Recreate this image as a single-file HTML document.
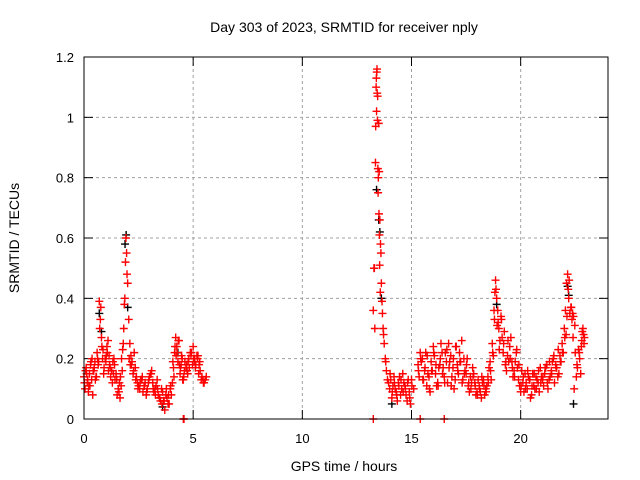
<!DOCTYPE html>
<html><head><meta charset="utf-8"><style>
body{margin:0;background:#fff}
svg{display:block;font-family:"Liberation Sans",sans-serif}
</style></head><body>
<svg id="chart" width="640" height="480" xmlns="http://www.w3.org/2000/svg">
<text x="344" y="32" font-size="14" text-anchor="middle">Day 303 of 2023, SRMTID for receiver nply</text>
<text x="344" y="471" font-size="14" text-anchor="middle">GPS time / hours</text>
<text transform="translate(19,238) rotate(-90)" font-size="14" text-anchor="middle">SRMTID / TECUs</text>
<g id="grid"></g>
<g id="ticks"></g>
<g id="black"></g>
<g id="red"></g>
<rect x="84" y="57" width="524" height="362" fill="none" stroke="#000" stroke-width="1"/>
</svg>
<script>
const xTicks=[0,5,10,15,20];
const yTicks=[0,0.2,0.4,0.6,0.8,1,1.2];
const yTickLabels=["0","0.2","0.4","0.6","0.8","1","1.2"];
const redTimes=[0,0.05,0.1,0.15,0.2,0.25,0.3,0.35,0.4,0.45,0.5,0.55,0.6,0.65,0.7,0.75,0.8,0.85,0.9,1.0,1.05,1.1,1.15,1.2,1.3,1.35,1.4,1.5,1.6,1.65,1.7,1.75,1.8,1.85,1.9,1.92,1.95,2.0,2.05,2.1,2.15,2.2,2.3,2.35,2.4,2.5,2.6,2.7,2.8,2.9,3.0,3.1,3.15,3.2,3.3,3.4,3.5,3.6,3.7,3.8,3.9,4.0,4.05,4.1,4.15,4.2,4.25,4.3,4.35,4.4,4.45,4.5,4.55,4.6,4.7,4.75,4.8,4.9,5.0,5.05,5.1,5.2,5.25,5.3,5.4,5.5,5.55,5.6,
0.02,0.12,0.22,0.32,0.42,0.52,0.62,0.72,0.82,0.92,1.02,1.12,1.22,1.32,1.42,1.52,1.62,1.72,1.82,2.12,2.25,2.45,2.55,2.65,2.75,2.85,2.95,3.05,3.25,3.35,3.45,3.55,3.65,3.75,3.85,3.95,4.12,4.22,4.32,4.42,4.52,4.62,4.72,4.82,4.92,5.02,5.12,5.22,5.32,5.45,4.55,4.58,
0.07,0.17,0.27,0.37,0.47,0.57,0.67,0.77,0.87,0.97,1.07,1.17,1.27,1.37,1.47,1.57,1.67,1.77,1.87,1.97,2.07,2.17,2.27,2.37,2.47,2.57,2.67,2.77,2.87,2.97,3.07,3.17,3.27,3.37,3.47,3.57,3.67,3.77,3.87,3.97,4.07,4.17,4.27,4.37,4.47,4.57,4.67,4.77,4.87,4.97,5.07,5.17,5.27,5.37,5.47,
13.25,13.3,13.35,13.38,13.42,13.45,13.5,13.52,13.55,13.6,13.62,13.65,13.7,13.75,13.8,13.85,13.9,14.0,14.1,14.15,14.2,14.3,14.4,14.5,14.6,14.7,14.8,14.9,15.0,15.1,15.3,15.4,15.5,15.6,15.7,15.8,15.9,16.0,16.1,16.2,16.3,16.4,16.5,16.6,16.7,16.8,16.9,17.0,17.1,17.2,17.3,17.4,17.5,17.6,17.7,17.8,17.9,18.0,18.1,18.2,18.3,18.4,18.5,18.6,18.7,18.8,18.85,18.9,18.95,19.0,19.1,19.15,19.2,19.3,19.4,19.5,19.6,19.7,19.8,19.9,20.0,20.1,20.2,20.3,20.4,20.5,20.6,20.7,20.8,20.9,21.0,21.1,21.2,21.3,21.4,21.5,21.6,21.7,21.8,21.9,22.0,22.05,22.1,22.15,22.2,22.3,22.35,22.4,22.45,22.5,22.6,22.7,22.8,22.85,22.9,
13.4,13.47,13.58,13.67,13.72,13.82,13.95,14.05,14.25,14.35,14.45,14.55,14.65,14.75,14.85,14.95,15.35,15.45,15.55,15.65,15.75,15.85,15.95,16.05,16.15,16.25,16.35,16.45,16.55,16.65,16.75,16.85,16.95,17.05,17.15,17.25,17.35,17.45,17.55,17.65,17.75,17.85,17.95,18.05,18.15,18.25,18.35,18.45,18.55,18.65,18.75,18.82,18.92,19.05,19.25,19.35,19.45,19.55,19.65,19.75,19.85,19.95,20.05,20.15,20.25,20.35,20.45,20.55,20.65,20.75,20.85,20.95,21.05,21.15,21.25,21.35,21.45,21.55,21.65,21.75,21.85,21.95,22.08,22.18,22.25,22.42,22.55,22.65,22.75,22.88,13.25,15.4,16.5,
13.36,13.39,13.41,13.43,13.44,13.46,13.48,13.51,13.53,13.54,13.57,13.28,13.32,14.02,14.12,14.22,14.32,14.42,14.52,14.62,14.72,14.82,14.92,15.02,15.32,15.42,15.52,15.62,15.72,15.82,15.92,16.02,16.12,16.22,16.32,16.42,16.52,16.62,16.72,16.82,16.92,17.02,17.12,17.22,17.32,17.42,17.52,17.62,17.72,17.82,17.92,18.02,18.12,18.22,18.32,18.42,18.52,18.62,18.72,18.78,18.87,18.97,19.02,19.12,19.22,19.32,19.42,19.52,19.62,19.72,19.82,19.92,20.02,20.12,20.22,20.32,20.42,20.52,20.62,20.72,20.82,20.92,21.02,21.12,21.22,21.32,21.42,21.52,21.62,21.72,21.82,21.92,22.02,22.12,22.22,22.32,22.38,22.48,22.58,22.68,22.78,22.82,22.92];
const redValues=[0.14,0.10,0.17,0.12,0.09,0.15,0.18,0.13,0.08,0.16,0.19,0.14,0.22,0.18,0.39,0.33,0.27,0.20,0.15,0.19,0.24,0.26,0.21,0.17,0.12,0.15,0.18,0.13,0.09,0.07,0.11,0.16,0.25,0.38,0.52,0.60,0.55,0.45,0.33,0.25,0.21,0.19,0.22,0.17,0.14,0.11,0.13,0.09,0.12,0.10,0.14,0.16,0.12,0.09,0.11,0.08,0.06,0.09,0.03,0.07,0.05,0.08,0.12,0.17,0.22,0.27,0.24,0.19,0.26,0.15,0.18,0.20,0.13,0.16,0.18,0.15,0.20,0.21,0.24,0.19,0.17,0.20,0.15,0.19,0.14,0.12,0.13,0.14,
0.12,0.15,0.11,0.19,0.16,0.13,0.20,0.30,0.24,0.17,0.21,0.16,0.14,0.19,0.13,0.08,0.12,0.20,0.30,0.18,0.15,0.12,0.10,0.13,0.11,0.08,0.12,0.15,0.10,0.13,0.07,0.10,0.06,0.08,0.05,0.10,0.14,0.21,0.26,0.17,0.13,0.19,0.16,0.17,0.22,0.20,0.18,0.21,0.16,0.13,0,0,
0.16,0.13,0.11,0.20,0.17,0.14,0.19,0.37,0.23,0.20,0.22,0.18,0.16,0.20,0.15,0.10,0.14,0.23,0.40,0.48,0.20,0.18,0.16,0.13,0.10,0.12,0.14,0.11,0.09,0.13,0.15,0.10,0.08,0.10,0.07,0.05,0.06,0.10,0.08,0.11,0.19,0.24,0.22,0.18,0.21,0.14,0.17,0.19,0.22,0.18,0.20,0.21,0.18,0.13,0.12,
0.36,0.50,0.85,1.10,1.16,1.07,0.98,0.82,0.66,0.55,0.45,0.39,0.30,0.25,0.20,0.16,0.13,0.10,0.07,0.11,0.14,0.09,0.12,0.08,0.15,0.11,0.06,0.09,0.13,0.10,0.18,0.22,0.20,0.16,0.11,0.14,0.19,0.24,0.15,0.12,0.18,0.22,0.14,0.19,0.25,0.21,0.17,0.13,0.18,0.22,0.26,0.20,0.15,0.11,0.14,0.17,0.12,0.09,0.11,0.07,0.13,0.10,0.14,0.19,0.25,0.33,0.46,0.40,0.36,0.30,0.34,0.27,0.22,0.18,0.21,0.24,0.19,0.16,0.22,0.13,0.09,0.12,0.15,0.10,0.13,0.08,0.11,0.14,0.12,0.17,0.13,0.15,0.18,0.13,0.16,0.20,0.18,0.14,0.21,0.25,0.30,0.36,0.45,0.48,0.40,0.37,0.33,0.27,0.10,0.22,0.17,0.20,0.26,0.30,0.25,
1.02,0.75,0.58,0.35,0.28,0.19,0.12,0.13,0.10,0.06,0.14,0.10,0.12,0.08,0.13,0.05,0.14,0.19,0.13,0.22,0.15,0.09,0.16,0.21,0.11,0.17,0.25,0.17,0.22,0.12,0.19,0.14,0.10,0.24,0.15,0.19,0.13,0.16,0.20,0.09,0.12,0.15,0.08,0.13,0.09,0.12,0.08,0.11,0.17,0.13,0.21,0.42,0.31,0.26,0.29,0.16,0.19,0.27,0.14,0.19,0.17,0.11,0.16,0.09,0.12,0.14,0.07,0.15,0.10,0.13,0.09,0.14,0.11,0.17,0.10,0.14,0.19,0.12,0.17,0.15,0.19,0.22,0.28,0.43,0.35,0.34,0.14,0.23,0.15,0.28,0,0,0,
0.97,1.13,1.15,1.08,0.99,0.83,0.80,0.68,0.61,0.51,0.42,0.50,0.30,0.15,0.09,0.12,0.08,0.11,0.13,0.09,0.10,0.12,0.07,0.11,0.16,0.20,0.13,0.17,0.21,0.10,0.16,0.22,0.18,0.11,0.20,0.15,0.12,0.23,0.17,0.11,0.20,0.24,0.16,0.19,0.12,0.15,0.18,0.12,0.10,0.14,0.11,0.08,0.10,0.14,0.11,0.09,0.12,0.16,0.22,0.36,0.43,0.32,0.23,0.33,0.25,0.19,0.26,0.20,0.17,0.14,0.23,0.18,0.11,0.14,0.10,0.16,0.13,0.11,0.15,0.10,0.16,0.12,0.14,0.17,0.12,0.19,0.15,0.21,0.17,0.23,0.19,0.22,0.27,0.34,0.46,0.37,0.35,0.31,0.18,0.22,0.24,0.29,0.27];
const blackTimes=[0.7,1.88,1.93,2.0,4.3,13.4,13.5,13.55,13.62,14.1,18.9,22.15,22.2,22.42,0.8,3.6];
const blackValues=[0.35,0.58,0.61,0.37,0.22,0.76,0.66,0.62,0.40,0.05,0.38,0.44,0.41,0.05,0.29,0.04];
const X=t=>84+t*(524/24), Y=v=>419-v*(362/1.2);
const NS='http://www.w3.org/2000/svg';
const grid=document.getElementById('grid'),ticks=document.getElementById('ticks');
function mk(tag,attrs,parent){const e=document.createElementNS(NS,tag);for(const k in attrs)e.setAttribute(k,attrs[k]);parent.appendChild(e);return e;}
xTicks.forEach(t=>{const x=X(t);
 if(t>0){const g=mk('line',{x1:x,x2:x,y1:57,y2:419,stroke:'#a0a0a0','stroke-dasharray':'3,3'},grid);
 
 }
 mk('line',{x1:x,x2:x,y1:419,y2:410,stroke:'#000'},ticks);
 mk('line',{x1:x,x2:x,y1:57,y2:66,stroke:'#000'},ticks);
 const l=mk('text',{x:x,y:443,'font-size':13,'text-anchor':'middle'},ticks);
 
 
 l.textContent=t;});
yTicks.forEach((v,i)=>{const y=Y(v);
 if(v>0&&v<1.2){const g=mk('line',{x1:84,x2:608,y1:y,y2:y,stroke:'#a0a0a0','stroke-dasharray':'3,3'},grid);
 
 }
 mk('line',{x1:84,x2:93,y1:y,y2:y,stroke:'#000'},ticks);
 mk('line',{x1:608,x2:599,y1:y,y2:y,stroke:'#000'},ticks);
 const l=mk('text',{x:74,y:y+5,'font-size':13,'text-anchor':'end'},ticks);
 
 
 l.textContent=yTickLabels[i];});
function plus(g,t,v,c){const x=X(t),y=Y(v);
 const p=mk('path',{d:`M${x-4},${y}H${x+4}M${x},${y-4}V${y+4}`,stroke:c,'stroke-width':1.4},g);
 
 }
const bg=document.getElementById('black'),rg=document.getElementById('red');
blackTimes.forEach((t,i)=>plus(bg,t,blackValues[i],'#000'));
redTimes.forEach((t,i)=>plus(rg,t,redValues[i],'#ff0000'));
</script>
</body></html>
